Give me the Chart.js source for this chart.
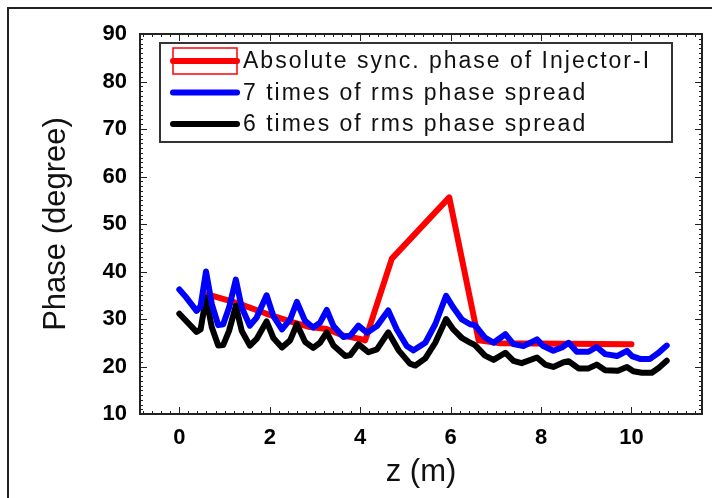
<!DOCTYPE html>
<html>
<head>
<meta charset="utf-8">
<script src="https://cdn.jsdelivr.net/npm/chart.js@4/dist/chart.umd.min.js"></script>
<style>
html,body{margin:0;padding:0;background:#fff;}
#wrap{position:relative;width:712px;height:498px;overflow:hidden;}
#frame{position:absolute;left:7px;top:7px;width:720px;height:500px;border-left:2px solid #222;border-top:2px solid #222;}
canvas{position:absolute;left:0;top:0;}
</style>
</head>
<body>
<div id="wrap">
<div id="frame"></div>
<canvas id="phaseChart" width="712" height="498"></canvas>
</div>
<script>

/* DATA */

const seriesLabels = ['Absolute sync. phase of Injector-I', '7 times of rms phase spread', '6 times of rms phase spread'];
const seriesColors = ['#ff0000', '#0000ff', '#000000'];

const redZ =    [0.62, 1.27, 1.93, 2.52, 2.89, 3.26, 3.63, 4.0, 4.11, 4.7, 5.97, 6.62, 7.1, 10.0];
const redVals = [35.2, 33.4, 31.1, 29.3, 28.3, 27.9, 26.5, 25.8, 25.5, 42.7, 55.6, 25.5, 24.9, 24.7];

const blueZ =    [0.0, 0.13, 0.38, 0.47, 0.59, 0.72, 0.86, 0.97, 1.1, 1.25, 1.38, 1.56, 1.71, 1.93, 2.08, 2.27, 2.45, 2.6, 2.78, 2.96,
                  3.11, 3.26, 3.41, 3.63, 3.78, 3.96, 4.15, 4.37, 4.62, 4.81, 5.03, 5.18, 5.44, 5.66, 5.9, 6.06, 6.25, 6.43, 6.54, 6.76,
                  6.95, 7.21, 7.39, 7.61, 7.91, 8.05, 8.27, 8.46, 8.61, 8.79, 9.05, 9.23, 9.42, 9.68, 9.9, 10.01, 10.19, 10.41, 10.6, 10.78];
const blueVals = [36.2, 34.8, 31.7, 32.7, 40.0, 33.1, 28.7, 28.9, 32.4, 38.3, 32.4, 28.6, 30.3, 35.0, 30.6, 27.8, 29.9, 33.6, 29.6, 28.2,
                  29.2, 31.9, 28.5, 26.2, 26.5, 28.6, 27.1, 28.5, 31.8, 27.8, 24.3, 23.4, 25.0, 28.9, 34.9, 32.4, 29.9, 28.9, 28.7, 26.1,
                  25.0, 26.8, 24.7, 24.3, 25.7, 24.3, 23.3, 24.0, 25.0, 23.1, 23.1, 24.1, 22.6, 22.2, 23.3, 22.2, 21.6, 21.6, 22.9, 24.4];

const blackZ =    [0.0, 0.38, 0.47, 0.59, 0.72, 0.86, 0.97, 1.1, 1.25, 1.38, 1.56, 1.71, 1.93, 2.08, 2.27, 2.45, 2.6, 2.78, 2.96, 3.11,
                   3.26, 3.41, 3.67, 3.78, 3.96, 4.18, 4.37, 4.62, 4.85, 5.1, 5.22, 5.44, 5.66, 5.9, 6.06, 6.25, 6.4, 6.54, 6.76, 6.95,
                   7.21, 7.39, 7.57, 7.91, 8.09, 8.27, 8.5, 8.61, 8.83, 9.05, 9.23, 9.42, 9.7, 9.9, 10.04, 10.23, 10.45, 10.6, 10.78];
const blackVals = [31.1, 27.3, 27.8, 34.5, 28.2, 24.4, 24.5, 27.5, 32.8, 27.5, 24.4, 25.8, 29.5, 26.0, 24.0, 25.5, 28.9, 25.2, 23.9, 25.0,
                   27.2, 24.4, 22.2, 22.4, 24.7, 23.0, 23.6, 27.2, 23.4, 20.6, 20.2, 21.7, 25.0, 30.0, 27.8, 26.0, 25.2, 24.5, 22.3, 21.4,
                   22.9, 21.2, 20.7, 21.9, 20.4, 19.9, 20.9, 21.1, 19.6, 19.6, 20.4, 19.2, 19.1, 19.9, 19.0, 18.7, 18.7, 19.7, 21.2];

const xTicks = [0, 2, 4, 6, 8, 10];
const yTicks = [10, 20, 30, 40, 50, 60, 70, 80, 90];

function toPoints(zs, vals){
  return zs.map((z, i) => ({x: z, y: vals[i]}));
}

const FONT = "'Liberation Sans', Arial, sans-serif";

/* frame with inward major / minor ticks on all four sides */
const frameTicks = {
  id: 'frameTicks',
  afterDatasetsDraw(chart){
    const {ctx, chartArea: a, scales: {x, y}} = chart;
    ctx.save();
    ctx.strokeStyle = '#222';
    ctx.lineWidth = 1;
    ctx.beginPath();
    for (let i = Math.ceil(x.min * 5); i <= Math.floor(x.max * 5); i++){
      const px = Math.round(x.getPixelForValue(i / 5)) + 0.5;
      const len = (i % 10 === 0) ? 7 : 3;
      ctx.moveTo(px, a.bottom); ctx.lineTo(px, a.bottom - len);
      ctx.moveTo(px, a.top); ctx.lineTo(px, a.top + len);
    }
    for (let v = y.min; v <= y.max; v++){
      const py = Math.round(y.getPixelForValue(v)) + 0.5;
      const len = (v % 10 === 0) ? 7 : 3;
      ctx.moveTo(a.left, py); ctx.lineTo(a.left + len, py);
      ctx.moveTo(a.right, py); ctx.lineTo(a.right - len, py);
    }
    ctx.stroke();
    ctx.lineWidth = 2;
    ctx.strokeRect(a.left, a.top, a.right - a.left, a.bottom - a.top);
    ctx.restore();
  }
};

/* boxed legend inside the plot, Origin style */
const boxLegend = {
  id: 'boxLegend',
  afterDraw(chart){
    const {ctx, chartArea: a} = chart;
    const left = a.left + 20, top = a.top + 9, w = 512, h = 99;
    const rowH = 31.5, iconL = left + 13, iconR = left + 77, textX = left + 83;
    ctx.save();
    ctx.strokeStyle = '#333';
    ctx.lineWidth = 2;
    ctx.strokeRect(left, top, w, h);
    chart.data.datasets.forEach((ds, i) => {
      const cy = top + 18 + i * rowH;
      if (i === 0){
        ctx.strokeStyle = ds.borderColor;
        ctx.lineWidth = 1.5;
        ctx.strokeRect(iconL, cy - 13, iconR - iconL, 26);
      }
      ctx.strokeStyle = ds.borderColor;
      ctx.lineWidth = 6;
      ctx.lineCap = 'round';
      ctx.beginPath();
      ctx.moveTo(iconL, cy); ctx.lineTo(iconR, cy);
      ctx.stroke();
      ctx.fillStyle = '#111';
      ctx.font = '23px ' + FONT;
      ctx.letterSpacing = '2px';
      ctx.textBaseline = 'middle';
      ctx.fillText(ds.label, textX, cy + 1);
    });
    ctx.restore();
  }
};

function makeSet(i, zs, vals, order){
  return {
    label: seriesLabels[i],
    data: toPoints(zs, vals),
    borderColor: seriesColors[i],
    borderWidth: 6,
    borderJoinStyle: 'round',
    borderCapStyle: 'round',
    pointRadius: 0,
    tension: 0,
    fill: false,
    order: order
  };
}

new Chart(document.getElementById('phaseChart'), {
  type: 'line',
  data: {
    datasets: [
      makeSet(0, redZ, redVals, 2),
      makeSet(1, blueZ, blueVals, 0),
      makeSet(2, blackZ, blackVals, 1)
    ]
  },
  options: {
    responsive: false,
    animation: false,
    events: [],
    layout: {padding: {top: 34, right: 10, left: 0, bottom: 0}},
    plugins: {legend: {display: false}, tooltip: {enabled: false}},
    scales: {
      x: {
        type: 'linear',
        min: -0.87,
        max: 11.56,
        afterFit: s => { s.height = 84; },
        afterBuildTicks: s => { s.ticks = xTicks.map(v => ({value: v})); },
        grid: {display: false, drawTicks: false},
        border: {display: false},
        ticks: {color: '#000', padding: 11, maxRotation: 0, font: {family: FONT, size: 22, weight: 'bold'}},
        title: {display: true, text: 'z (m)', color: '#111', padding: {top: 0, bottom: 7}, font: {family: FONT, size: 31}}
      },
      y: {
        type: 'linear',
        min: 10,
        max: 90,
        afterFit: s => { s.width = 140; },
        afterBuildTicks: s => { s.ticks = yTicks.map(v => ({value: v})); },
        grid: {display: false, drawTicks: false},
        border: {display: false},
        ticks: {color: '#000', padding: 13, font: {family: FONT, size: 22, weight: 'bold'}},
        title: {display: true, text: 'Phase (degree)', color: '#111', padding: {top: 38, bottom: 0}, font: {family: FONT, size: 31}}
      }
    }
  },
  plugins: [frameTicks, boxLegend]
});

</script>
</body>
</html>
